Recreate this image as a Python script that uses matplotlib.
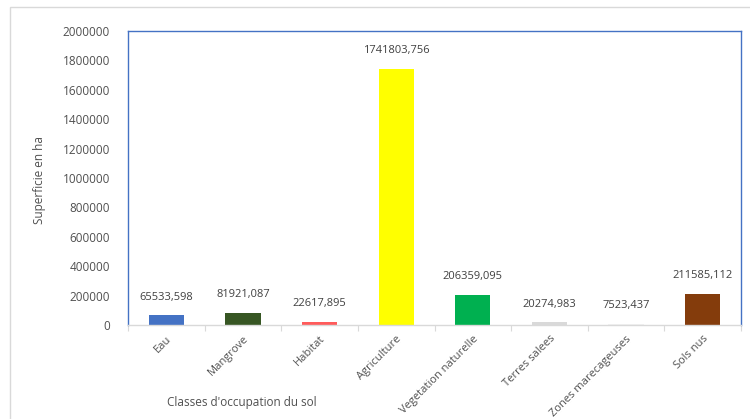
"""Superficie par classe d'occupation du sol."""

import matplotlib.pyplot as plt
import matplotlib.ticker as mtick
import numpy as np

classes = ["Eau", "Mangrove", "Habitat", "Agriculture", "Vegetation naturelle",
           "Terres salees", "Zones marecageuses", "Sols nus"]
superficie = [65533.598, 81921.087, 22617.895, 1741803.756, 206359.095,
              20274.983, 7523.437, 211585.112]
etiquettes = ["65533,598", "81921,087", "22617,895", "1741803,756", "206359,095",
              "20274,983", "7523,437", "211585,112"]
couleurs = ["#4472C4", "#375623", "#FF5B5B", "#FFFF00", "#00B050",
            "#D9D9D9", "#F2F2F2", "#843C0C"]

gris = "#505050"
plt.rcParams["font.family"] = ["Open Sans", "DejaVu Sans"]

fig = plt.figure(figsize=(7.5, 4.19), dpi=100)
ax = fig.add_axes([128 / 750, 1 - 325 / 419, (741 - 128) / 750, (325 - 31) / 419])

x = np.arange(len(classes))
ax.bar(x, superficie, width=0.46, color=couleurs)
for xi, val, txt in zip(x, superficie, etiquettes):
    ax.annotate(txt, (xi, val), xytext=(0, 9), textcoords="offset points",
                ha="center", va="bottom", fontsize=8, color="#404040")

ax.set_xlim(-0.5, len(classes) - 0.5)
ax.set_ylim(0, 2000000)
ax.yaxis.set_major_locator(mtick.MultipleLocator(200000))
ax.yaxis.set_major_formatter(mtick.FuncFormatter(lambda v, p: f"{int(v)}"))

ax.set_xticks(x)
ax.set_xticklabels(classes, rotation=45, ha="right", rotation_mode="anchor",
                   fontsize=8, color=gris)
ax.set_xticks(np.arange(len(classes) + 1) - 0.5, minor=True)
ax.tick_params(axis="x", which="major", length=0, pad=6)
ax.tick_params(axis="x", which="minor", length=4, color="#D9D9D9", width=0.8)
ax.tick_params(axis="y", length=0, labelsize=8.5, labelcolor=gris, pad=13)

for cote in ["left", "top", "right"]:
    ax.spines[cote].set_color("#4472C4")
    ax.spines[cote].set_linewidth(1.0)
ax.spines["bottom"].set_color("#D9D9D9")
ax.spines["bottom"].set_linewidth(1.0)

fig.text(40 / 750, 1 - 180 / 419, "Superficie en ha", rotation=90,
         ha="center", va="center", fontsize=8.5, color=gris)
fig.text(242 / 750, 1 - 402 / 419, "Classes d'occupation du sol",
         ha="center", va="center", fontsize=8.5, color=gris)

# cadre du graphique
cadre = plt.Rectangle((10 / 750, -0.05), 1.0, 1 - 7 / 419 + 0.05,
                      transform=fig.transFigure, fill=False,
                      edgecolor="#D9D9D9", linewidth=1.0)
fig.add_artist(cadre)

fig.savefig("out.png", dpi=100)
